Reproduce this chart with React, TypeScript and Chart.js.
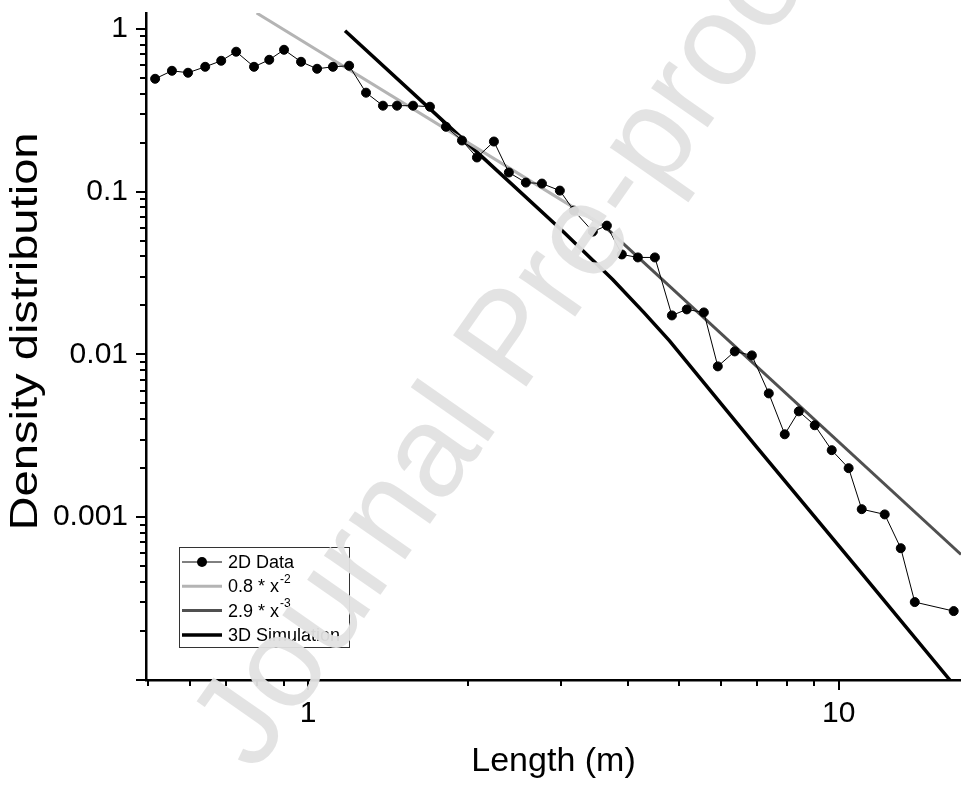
import React, { useEffect, useRef } from 'react';
import { Chart, registerables } from 'chart.js';

Chart.register(...registerables);

// ---- data ----
const dataX = [0.515, 0.554, 0.594, 0.640, 0.686, 0.732, 0.791, 0.845, 0.901, 0.970, 1.040, 1.114, 1.195, 1.286, 1.384, 1.471, 1.577, 1.697, 1.819, 1.950, 2.081, 2.240, 2.390, 2.573, 2.759, 2.982, 3.170, 3.441, 3.657, 3.902, 4.183, 4.504, 4.849, 5.172, 5.570, 5.918, 6.370, 6.860, 7.383, 7.912, 8.410, 9.012, 9.701, 10.44, 11.05, 12.21, 13.09, 13.91, 16.47];
const dataY = [0.493, 0.552, 0.537, 0.584, 0.636, 0.723, 0.584, 0.645, 0.743, 0.627, 0.568, 0.584, 0.593, 0.405, 0.337, 0.337, 0.337, 0.332, 0.250, 0.206, 0.162, 0.203, 0.131, 0.1136, 0.112, 0.1014, 0.0764, 0.0568, 0.0618, 0.0411, 0.0394, 0.0394, 0.01735, 0.01889, 0.0181, 0.00844, 0.01043, 0.00986, 0.00576, 0.00323, 0.00447, 0.00367, 0.00258, 0.0020, 0.00112, 0.00104, 0.000645, 0.000301, 0.000265];

const fitAX = [0.8, 3.625];
const fitAY = [1.25, 0.0609];

const fitBX = [3.625, 17];
const fitBY = [0.0609, 0.00059];

const simX = [1.174, 2, 3, 3.75, 4.3, 4.8, 7, 11, 16.2];
const simY = [0.972, 0.197, 0.0583, 0.0288, 0.018, 0.0121, 0.0027, 0.00046, 0.0001];

const seriesLabels = ['2D Data', '0.8 * x^-2', '2.9 * x^-3', '3D Simulation'];

const xTickValues = [1, 10];
const xTickLabels = ['1', '10'];
const yTickValues = [0.001, 0.01, 0.1, 1];
const yTickLabels = ['0.001', '0.01', '0.1', '1'];

const xTitle = 'Length (m)';
const yTitle = 'Density distribution';
const watermark = 'Journal Pre-proof';

const FONT = '"Liberation Sans", Arial, Helvetica, sans-serif';

const toPoints = (xs: number[], ys: number[]) => xs.map((x, i) => ({ x, y: ys[i] }));

const decorPlugin = {
  id: 'decor',
  afterDraw(chart: any) {
    const { ctx, chartArea, scales } = chart;
    const xs = scales.x;
    const ys = scales.y;
    ctx.save();
    // minor + major tick marks (outward)
    ctx.strokeStyle = '#000';
    ctx.lineWidth = 2;
    ctx.beginPath();
    for (let e = -5; e <= 2; e++) {
      for (let m = 1; m <= 9; m++) {
        const v = m * Math.pow(10, e);
        const len = m === 1 ? 10 : 6;
        if (v >= ys.min * 0.999 && v <= ys.max * 1.001) {
          const py = Math.round(ys.getPixelForValue(v));
          ctx.moveTo(chartArea.left - len, py);
          ctx.lineTo(chartArea.left, py);
        }
        if (v >= xs.min * 0.999 && v <= xs.max * 1.001) {
          const px = Math.round(xs.getPixelForValue(v));
          ctx.moveTo(px, chartArea.bottom);
          ctx.lineTo(px, chartArea.bottom + len);
        }
      }
    }
    ctx.stroke();

    // y axis title (drawn as text, stretched along its length like the reference)
    ctx.save();
    ctx.translate(27, (chartArea.top + chartArea.bottom) / 2 - 15);
    ctx.rotate(-Math.PI / 2);
    ctx.scale(1.24, 1);
    ctx.font = `38px ${FONT}`;
    ctx.fillStyle = '#000';
    ctx.textAlign = 'center';
    ctx.textBaseline = 'middle';
    ctx.fillText(yTitle, 0, 0);
    ctx.restore();

    // legend box
    const bx = 179.5, by = 547.5, bw = 170, bh = 100;
    ctx.fillStyle = '#fff';
    ctx.fillRect(bx, by, bw, bh);
    ctx.strokeStyle = '#333';
    ctx.lineWidth = 1;
    ctx.strokeRect(bx, by, bw, bh);
    const dsets = chart.data.datasets;
    dsets.forEach((ds: any, i: number) => {
      const y = 562 + i * 24.3;
      ctx.strokeStyle = ds.borderColor;
      ctx.lineWidth = ds.borderWidth;
      ctx.beginPath();
      ctx.moveTo(182, y);
      ctx.lineTo(222, y);
      ctx.stroke();
      if (ds.pointRadius > 0) {
        ctx.fillStyle = ds.pointBackgroundColor;
        ctx.beginPath();
        ctx.arc(202, y, 5, 0, Math.PI * 2);
        ctx.fill();
      }
      const [base, sup] = String(ds.label).split('^');
      ctx.fillStyle = '#000';
      ctx.textBaseline = 'middle';
      ctx.textAlign = 'left';
      ctx.font = `18px ${FONT}`;
      ctx.fillText(base, 228, y + 1);
      if (sup) {
        const w = ctx.measureText(base).width;
        ctx.font = `12px ${FONT}`;
        ctx.fillText(sup, 228 + w + 1, y - 7);
      }
    });

    // watermark
    ctx.translate(255, 774);
    ctx.rotate((-55 * Math.PI) / 180);
    ctx.font = `130px ${FONT}`;
    ctx.fillStyle = 'rgba(226,226,226,0.95)';
    ctx.textBaseline = 'alphabetic';
    ctx.textAlign = 'left';
    ctx.fillText(watermark, 0, 0);
    ctx.restore();
  },
};

export default function App() {
  const ref = useRef<HTMLCanvasElement>(null);

  useEffect(() => {
    if (!ref.current) return;
    const chart = new Chart(ref.current, {
      type: 'scatter',
      data: {
        datasets: [
          {
            label: seriesLabels[0],
            data: toPoints(dataX, dataY),
            showLine: true,
            borderColor: '#000',
            borderWidth: 1,
            pointRadius: 4.5,
            pointBorderWidth: 1,
            pointBorderColor: '#000',
            pointBackgroundColor: '#000',
          },
          {
            label: seriesLabels[1],
            data: toPoints(fitAX, fitAY),
            showLine: true,
            borderColor: '#b4b4b4',
            borderWidth: 3,
            pointRadius: 0,
          },
          {
            label: seriesLabels[2],
            data: toPoints(fitBX, fitBY),
            showLine: true,
            borderColor: '#505050',
            borderWidth: 3,
            pointRadius: 0,
          },
          {
            label: seriesLabels[3],
            data: toPoints(simX, simY),
            showLine: true,
            borderColor: '#000',
            borderWidth: 3.5,
            pointRadius: 0,
          },
        ],
      } as any,
      options: {
        animation: false,
        responsive: false,
        devicePixelRatio: 1,
        layout: { autoPadding: false, padding: { top: 13, right: 0, left: 0, bottom: 0 } },
        plugins: {
          legend: { display: false },
          tooltip: { enabled: false },
        },
        scales: {
          x: {
            type: 'logarithmic',
            min: 0.495,
            max: 17,
            grid: { display: false, drawTicks: false },
            border: { display: true, color: '#000', width: 2.5 },
            afterBuildTicks: (s: any) => {
              s.ticks = xTickValues.map((v) => ({ value: v }));
            },
            afterFit: (s: any) => {
              s.height = 105;
              s.paddingLeft = 0;
              s.paddingRight = 0;
              s.paddingTop = 0;
              s.paddingBottom = 0;
            },
            ticks: {
              autoSkip: false,
              maxRotation: 0,
              padding: 16,
              color: '#000',
              font: { family: FONT, size: 30 },
              callback: (_v: any, i: number) => xTickLabels[i],
            },
            title: {
              display: true,
              text: xTitle,
              color: '#000',
              font: { family: FONT, size: 34 },
              padding: { top: 0, bottom: 3 },
            },
          },
          y: {
            type: 'logarithmic',
            min: 0.0001,
            max: 1.25,
            grid: { display: false, drawTicks: false },
            border: { display: true, color: '#000', width: 2.5 },
            afterBuildTicks: (s: any) => {
              s.ticks = yTickValues.map((v) => ({ value: v }));
            },
            afterFit: (s: any) => {
              s.width = 146;
              s.paddingLeft = 0;
              s.paddingRight = 0;
              s.paddingTop = 0;
              s.paddingBottom = 0;
            },
            ticks: {
              autoSkip: false,
              padding: 18,
              color: '#000',
              font: { family: FONT, size: 30 },
              callback: (_v: any, i: number) => yTickLabels[i],
            },
            title: { display: false, text: yTitle },
          },
        },
      } as any,
      plugins: [decorPlugin],
    });
    return () => chart.destroy();
  }, []);

  return (
    <div style={{ position: 'absolute', left: 0, top: 0, width: 961, height: 785, background: '#fff' }}>
      <canvas ref={ref} width={961} height={785} style={{ display: 'block', width: 961, height: 785 }} />
    </div>
  );
}
